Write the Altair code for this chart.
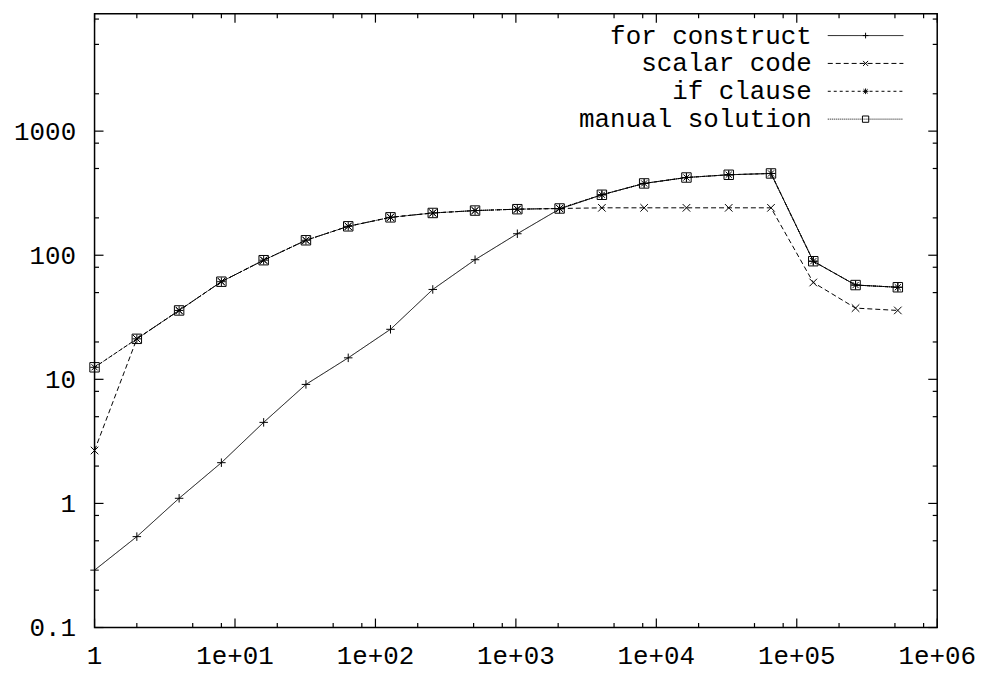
import altair as alt
import pandas as pd

# ---- data ----
sizes = [1, 2, 4, 8, 16, 32, 64, 128, 256, 512, 1024, 2048, 4096, 8192,
         16384, 32768, 65536, 131072, 262144, 524288]
for_construct = [0.29, 0.54, 1.10, 2.13, 4.5, 9.1, 14.9, 25.3, 53, 92, 149, 236,
                 307, 379, 423, 445, 456, 89.5, 57.5, 55.2]
scalar_code = [2.67, 21.2, 35.9, 61.2, 91.2, 132, 171, 202, 219, 229, 235, 238,
               241, 241, 241, 241, 241, 60.3, 37.5, 35.9]
if_clause = [12.5, 21.2, 35.9, 61.2, 91.2, 132, 171, 202, 219, 229, 235, 238,
             307, 379, 423, 445, 456, 89.5, 57.5, 55.2]
manual_solution = [12.5, 21.2, 35.9, 61.2, 91.2, 132, 171, 202, 219, 229, 235, 238,
                   307, 379, 423, 445, 456, 89.5, 57.5, 55.2]

names = ["for construct", "scalar code", "if clause", "manual solution"]
series_values = [for_construct, scalar_code, if_clause, manual_solution]

x_major = [1, 10, 100, 1000, 10000, 100000, 1000000]
x_labels = ["1", "1e+01", "1e+02", "1e+03", "1e+04", "1e+05", "1e+06"]
x_minor = [2, 5, 8, 20, 50, 80, 200, 500, 800, 2000, 5000, 8000,
           20000, 50000, 80000, 200000, 500000, 800000]
y_major = [0.1, 1, 10, 100, 1000]
y_minor = [0.2, 0.5, 0.8, 2, 5, 8, 20, 50, 80, 200, 500, 800, 2000, 5000, 8000]

# ---- styling ----
W, H = 847, 617
FONT = "Liberation Mono"
FS = 26
dashes = [[1, 0], [5, 3], [3, 3], [1, 1]]
shapes = [
    "M-0.9,0L0.9,0M0,-0.9L0,0.9",
    "M-0.8,-0.8L0.8,0.8M-0.8,0.8L0.8,-0.8",
    "M-0.9,0L0.9,0M0,-0.9L0,0.9M-0.65,-0.65L0.65,0.65M-0.65,0.65L0.65,-0.65",
    "M-1,-1L1,-1L1,1L-1,1Z",
]

rows = []
for name, vals in zip(names, series_values):
    for xv, yv in zip(sizes, vals):
        rows.append({"series": name, "x": xv, "y": yv})
df = pd.DataFrame(rows)
order_map = {n: i for i, n in enumerate(names[::-1])}
df["ord"] = df["series"].map(order_map)

xs = alt.Scale(type="log", domain=[1, 1000000], nice=False)
ys = alt.Scale(type="log", domain=[0.1, 8840], nice=False)
dash_scale = alt.Scale(domain=names, range=dashes)
shape_scale = alt.Scale(domain=names, range=shapes)

y_axis = alt.Axis(values=y_major, format="~g", labelFont=FONT, labelFontSize=FS, labelColor="black",
                  ticks=False, tickSize=0, domain=False, grid=False, labelPadding=19, title=None,
                  labelFlush=False, labelOverlap=False)

lines = alt.Chart(df).mark_line(color="black", strokeWidth=1).encode(
    x=alt.X("x:Q", scale=xs, axis=None),
    y=alt.Y("y:Q", scale=ys, axis=y_axis),
    strokeDash=alt.StrokeDash("series:N", scale=dash_scale, legend=None),
    detail="ord:O",
    order="x:Q",
)

points = alt.Chart(df).mark_point(filled=False, color="black", strokeWidth=1, size=90, opacity=1).encode(
    x=alt.X("x:Q", scale=xs, axis=None),
    y=alt.Y("y:Q", scale=ys, axis=None),
    shape=alt.Shape("series:N", scale=shape_scale, legend=None),
)

# ---- x tick labels ----
dfx_lab = pd.DataFrame({"v": x_major, "lab": x_labels})
x_text = alt.Chart(dfx_lab).mark_text(baseline="alphabetic", align="center", font=FONT, fontSize=FS,
                                      color="black").encode(
    x=alt.X("v:Q", scale=xs, axis=None), y=alt.value(H + 37), text="lab:N")

# ---- inward ticks on all four sides ----
dfx_major = pd.DataFrame({"v": x_major})
dfx_minor = pd.DataFrame({"v": x_minor})
dfy_major = pd.DataFrame({"v": y_major})
dfy_minor = pd.DataFrame({"v": y_minor})

def xticks(d, ln):
    b = alt.Chart(d).mark_rule(color="black", strokeWidth=1.2).encode(
        x=alt.X("v:Q", scale=xs, axis=None), y=alt.value(H), y2=alt.value(H - ln))
    t = alt.Chart(d).mark_rule(color="black", strokeWidth=1.2).encode(
        x=alt.X("v:Q", scale=xs, axis=None), y=alt.value(0), y2=alt.value(ln))
    return [b, t]

def yticks(d, ln):
    l = alt.Chart(d).mark_rule(color="black", strokeWidth=1.2).encode(
        y=alt.Y("v:Q", scale=ys, axis=None), x=alt.value(0), x2=alt.value(ln))
    r = alt.Chart(d).mark_rule(color="black", strokeWidth=1.2).encode(
        y=alt.Y("v:Q", scale=ys, axis=None), x=alt.value(W), x2=alt.value(W - ln))
    return [l, r]

tick_layers = xticks(dfx_major, 9) + xticks(dfx_minor, 4.5) + yticks(dfy_major, 9) + yticks(dfy_minor, 4.5)

# ---- legend (top right, inside the plot) ----
leg = pd.DataFrame({"series": names})
leg_y = alt.Scale(type="point", domain=names, range=[22, 106], padding=0)

leg_text = alt.Chart(leg).mark_text(align="right", baseline="middle", font=FONT, fontSize=FS,
                                     color="black").encode(
    x=alt.value(721), y=alt.Y("series:N", scale=leg_y, axis=None), text="series:N")
leg_line = alt.Chart(leg).mark_rule(color="black", strokeWidth=1).encode(
    x=alt.value(737), x2=alt.value(813), y=alt.Y("series:N", scale=leg_y, axis=None),
    strokeDash=alt.StrokeDash("series:N", scale=dash_scale, legend=None))
leg_pt = alt.Chart(leg).mark_point(filled=False, color="black", strokeWidth=1, size=40, opacity=1).encode(
    x=alt.value(775), y=alt.Y("series:N", scale=leg_y, axis=None),
    shape=alt.Shape("series:N", scale=shape_scale, legend=None))

chart = alt.layer(lines, points, x_text, *tick_layers, leg_line, leg_pt, leg_text).resolve_scale(
    y="independent"
).properties(
    width=W, height=H,
    autosize=alt.AutoSizeParams(type="none"),
    padding={"left": 87, "top": 4, "right": 42, "bottom": 44},
).configure(background="white").configure_view(stroke="black", strokeWidth=1.5)

chart.save("out.html", embed_options={"renderer": "svg", "actions": False})
